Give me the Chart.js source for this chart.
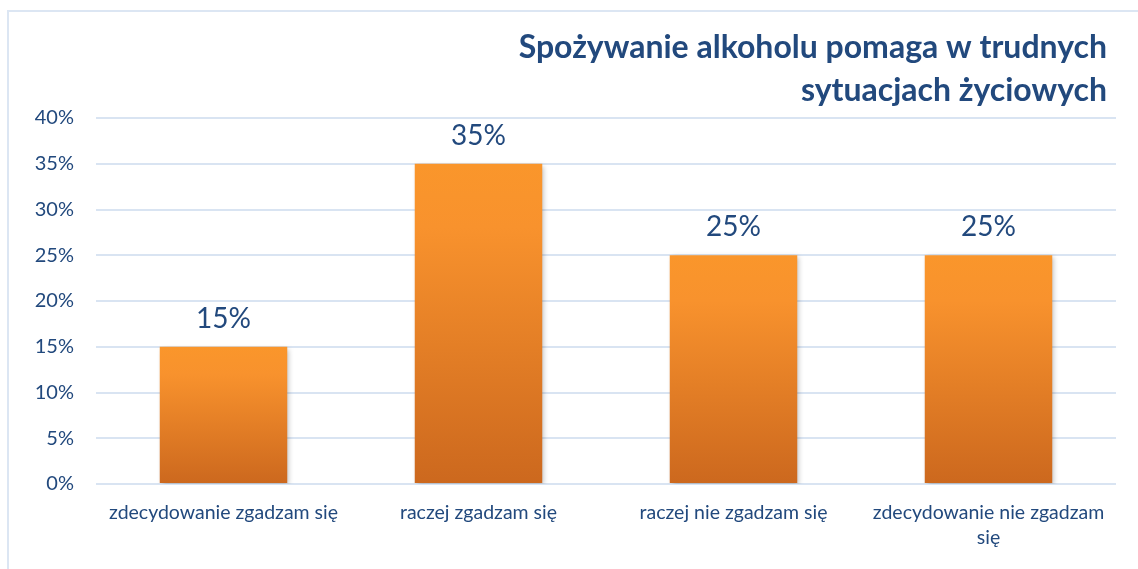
<!DOCTYPE html>
<html>
<head>
<meta charset="utf-8">
<script src="https://cdn.jsdelivr.net/npm/chart.js@4.4.0/dist/chart.umd.min.js"></script>
<style>
  html, body { margin: 0; padding: 0; background: #fff; }
  #wrap { position: relative; width: 1138px; height: 569px; overflow: hidden; }
  #frame { position: absolute; left: 7px; top: 10px; width: 1200px; height: 600px;
           border-left: 2px solid #dce6f3; border-top: 2px solid #dce6f3; }
  canvas { position: absolute; left: 0; top: 0; }
</style>
</head>
<body>
<div id="wrap">
  <div id="frame"></div>
  <canvas id="myChart" width="1138" height="569"></canvas>
</div>
<script>
// data
const categories = [
  'zdecydowanie zgadzam się',
  'raczej zgadzam się',
  'raczej nie zgadzam się',
  ['zdecydowanie nie zgadzam', 'się']
];
const values = [15, 35, 25, 25];
const yTicks = [0, 5, 10, 15, 20, 25, 30, 35, 40];
const chartTitle = ['Spożywanie alkoholu pomaga w trudnych', 'sytuacjach życiowych'];

const textColor = '#22497d';
const fontName = 'Lato, "Open Sans", sans-serif';

// orange gradient for each bar, light at top, darker at bottom
const barFill = (context) => {
  const chart = context.chart;
  const y = chart.scales.y;
  if (!chart.chartArea || !y) return '#f39029';
  const top = y.getPixelForValue(context.raw);
  const bottom = y.getPixelForValue(0);
  const g = chart.ctx.createLinearGradient(0, top, 0, bottom);
  g.addColorStop(0, '#fa962b');
  g.addColorStop(0.2, '#f8922d');
  g.addColorStop(1, '#cc681e');
  return g;
};

// soft shadow under the bars
const barShadow = {
  id: 'barShadow',
  beforeDatasetsDraw(chart) {
    const ctx = chart.ctx;
    ctx.save();
    ctx.shadowColor = 'rgba(0,0,0,0.25)';
    ctx.shadowBlur = 5;
    ctx.shadowOffsetX = 2;
    ctx.shadowOffsetY = 2;
  },
  afterDatasetsDraw(chart) {
    chart.ctx.restore();
  }
};

// value labels above the bars
const valueLabels = {
  id: 'valueLabels',
  afterDatasetsDraw(chart) {
    const ctx = chart.ctx;
    const meta = chart.getDatasetMeta(0);
    ctx.save();
    ctx.fillStyle = textColor;
    ctx.font = '28px ' + fontName;
    ctx.textAlign = 'center';
    ctx.textBaseline = 'middle';
    meta.data.forEach((bar, i) => {
      ctx.fillText(values[i] + '%', bar.x, bar.y - 28);
    });
    ctx.restore();
  }
};

// title drawn right-aligned in the top-right corner
const titleBlock = {
  id: 'titleBlock',
  afterDraw(chart) {
    const ctx = chart.ctx;
    ctx.save();
    ctx.fillStyle = textColor;
    ctx.font = 'bold 32px ' + fontName;
    ctx.textAlign = 'right';
    ctx.textBaseline = 'middle';
    ctx.fillText(chartTitle[0], 1107, 48);
    ctx.fillText(chartTitle[1], 1107, 91);
    ctx.restore();
  }
};

const ctx = document.getElementById('myChart').getContext('2d');

new Chart(ctx, {
  type: 'bar',
  data: {
    labels: categories,
    datasets: [{
      data: values,
      backgroundColor: barFill,
      borderWidth: 0,
      barPercentage: 0.5,
      categoryPercentage: 1.0
    }]
  },
  options: {
    responsive: false,
    animation: false,
    layout: { padding: { left: 0, right: 22, top: 118, bottom: 0 } },
    plugins: {
      legend: { display: false },
      tooltip: { enabled: false },
      title: { display: false }
    },
    scales: {
      x: {
        afterFit(axis) {
          axis.height = 85;
        },
        grid: { display: false },
        border: { display: false },
        ticks: {
          color: textColor,
          font: { family: fontName, size: 19.5, lineHeight: 1.25 },
          maxRotation: 0,
          autoSkip: false,
          padding: 9
        }
      },
      y: {
        min: 0,
        max: 40,
        afterBuildTicks(axis) {
          axis.ticks = yTicks.map(v => ({ value: v }));
        },
        afterFit(axis) {
          axis.width = 96;
        },
        grid: { color: '#d9e4f2', lineWidth: 2, drawTicks: false },
        border: { display: false },
        ticks: {
          color: textColor,
          font: { family: fontName, size: 20 },
          padding: 22,
          callback: v => v + '%'
        }
      }
    }
  },
  plugins: [barShadow, valueLabels, titleBlock]
});
</script>
</body>
</html>
